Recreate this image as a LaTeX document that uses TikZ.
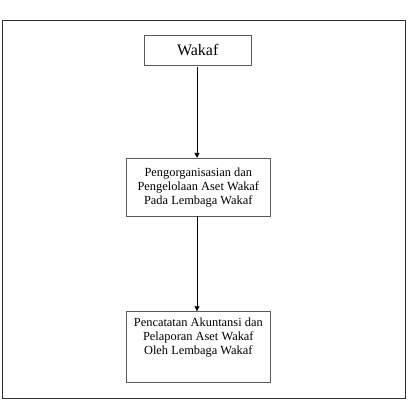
\documentclass[tikz,border=0pt]{standalone}
\usepackage{fontspec}
\setmainfont{Liberation Serif}
\usetikzlibrary{arrows.meta, positioning}
\definecolor{boxgray}{RGB}{90, 90, 90}
\definecolor{framegray}{RGB}{45, 45, 45}

\begin{document}
\begin{tikzpicture}[
        x=1pt, y=-1pt,
        box/.style={rectangle, draw=boxgray, line width=0.8pt, align=center, inner sep=0pt, font=\fontsize{12.4}{14}\selectfont},
        boxtext/.style={align=center, inner sep=0pt, font=\fontsize{12.4}{14}\selectfont},
        arrow/.style={-{Triangle[length=5pt, width=5pt]}, line width=0.9pt}
    ]
        \useasboundingbox (0,0) rectangle (408,401);

        % Outer frame
        \node[draw=framegray, line width=1.3pt, minimum width=403pt, minimum height=378pt, inner sep=0pt] (frame) at (203.8,209.7) {};

        % Boxes (top to bottom)
        \node[box, minimum width=106.7pt, minimum height=29.3pt, font=\fontsize{16}{18}\selectfont] (wakaf) at (197.7,50.3) {Wakaf};
        \node[box, minimum width=143.3pt, minimum height=57.7pt] (kelola) at (198.3,187.2) {Pengorganisasian dan\\Pengelolaan Aset Wakaf\\Pada Lembaga Wakaf};
        \node[box, minimum width=143.3pt, minimum height=70.6pt] (catat) at (198.3,347) {};
        \node[boxtext, anchor=north] (catattext) at (198.3,318) {Pencatatan Akuntansi dan\\Pelaporan Aset Wakaf\\Oleh Lembaga Wakaf};

        % Arrows
        \draw[arrow] ([yshift=-1.7pt]wakaf.south -| 197,0) -- (kelola.north -| 197,0);
        \draw[arrow] (kelola.south -| 197,0) -- (catat.north -| 197,0);
    \end{tikzpicture}
\end{document}
